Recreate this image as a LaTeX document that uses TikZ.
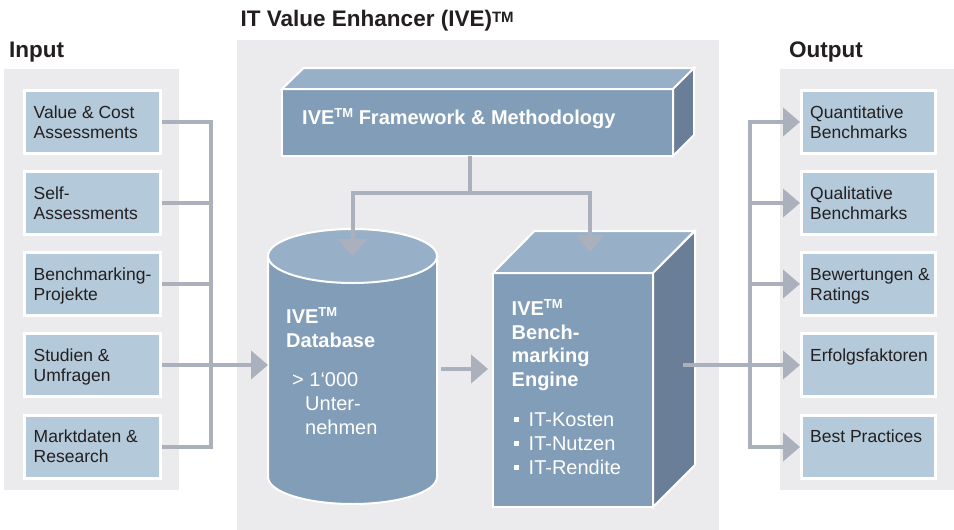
\documentclass[tikz,border=0pt]{standalone}
\usepackage{fontspec}
\setmainfont{Liberation Sans}
\usetikzlibrary{arrows.meta}
\definecolor{panel}{HTML}{EBEBED}
\definecolor{boxblue}{HTML}{B4CADB}
\definecolor{conn}{HTML}{AAB0BC}
\definecolor{front}{HTML}{819DB8}
\definecolor{topf}{HTML}{98AFC8}
\definecolor{side}{HTML}{6A7F97}
\definecolor{ink}{HTML}{231F20}
\newcommand\tmark[2]{\raisebox{#2}{\fontsize{#1}{#1}\selectfont TM}}
\newcommand\sA{\rule[-6pt]{0pt}{20pt}}
\newcommand\sB{\rule[-7pt]{0pt}{24pt}}
\newcommand\sC{\rule[-6.5pt]{0pt}{23.5pt}}
\newcommand\bsq{\makebox[15pt][l]{\rule[4pt]{5.5pt}{5.5pt}}}
\begin{document}
\begin{tikzpicture}[x=1pt,y=-1pt,
  panelbg/.style={fill=panel},
  iobox/.style={draw=white, line width=3pt, fill=boxblue, minimum width=136pt, minimum height=63pt, inner sep=0pt},
  iotext/.style={anchor=north west, inner sep=0pt, align=left, text=ink, font=\fontsize{17.5}{20}\selectfont},
  heading/.style={anchor=base west, inner sep=0pt, text=ink, font=\fontsize{22.5}{26}\selectfont\bfseries},
  face/.style={draw=white, line width=2pt, line join=miter},
  facenode/.style={face, inner sep=0pt, outer sep=0pt},
  whitebold/.style={anchor=north west, inner sep=0pt, align=left, text=white, font=\fontsize{20}{24}\selectfont\bfseries},
  whitereg/.style={anchor=north west, inner sep=0pt, align=left, text=white, font=\fontsize{20}{24}\selectfont},
  conn/.style={draw=conn, line width=4pt},
  arr/.style={conn, -{Triangle[length=17pt,width=28pt]}},
]
\useasboundingbox (0,0) rectangle (954,530);
\fill[white] (0,0) rectangle (954,530);
% panels
\fill[panelbg] (4,69) rectangle (179,490);
\fill[panelbg] (237,40) rectangle (719,530);
\fill[panelbg] (780,69) rectangle (954,490);
% headings
\node[heading] (tIn) at (9,57) {Input};
\node[heading] (tMid) at (240.5,27) {IT Value Enhancer (IVE)\tmark{15}{5pt}};
\node[heading] (tOut) at (789,57) {Output};
% input boxes
\node[iobox] (in1) at (92.5,122) {};
\node[iobox] (in2) at (92.5,203) {};
\node[iobox] (in3) at (92.5,284) {};
\node[iobox] (in4) at (92.5,365) {};
\node[iobox] (in5) at (92.5,447) {};
\node[iotext] (in1t) at (33.5,104) {\sA Value \& Cost\\\sA Assessments};
\node[iotext] (in2t) at (33.5,185) {\sA Self-\\\sA Assessments};
\node[iotext] (in3t) at (33.5,266) {\sA Benchmarking-\\\sA Projekte};
\node[iotext] (in4t) at (33.5,347) {\sA Studien \&\\\sA Umfragen};
\node[iotext] (in5t) at (33.5,428) {\sA Marktdaten \&\\\sA Research};
% output boxes
\node[iobox, minimum width=134pt] (out1) at (868.5,122) {};
\node[iobox, minimum width=134pt] (out2) at (868.5,203) {};
\node[iobox, minimum width=134pt] (out3) at (868.5,284) {};
\node[iobox, minimum width=134pt] (out4) at (868.5,365) {};
\node[iobox, minimum width=134pt] (out5) at (868.5,447) {};
\node[iotext] (out1t) at (810,104) {\sA Quantitative\\\sA Benchmarks};
\node[iotext] (out2t) at (810,185) {\sA Qualitative\\\sA Benchmarks};
\node[iotext] (out3t) at (810,266) {\sA Bewertungen \&\\\sA Ratings};
\node[iotext] (out4t) at (810,347) {\sA Erfolgsfaktoren};
\node[iotext] (out5t) at (810,428) {\sA Best Practices};
% framework block
\node[facenode, fill=front, minimum width=391pt, minimum height=67pt] (fw) at (477.5,122.5) {};
\draw[face, fill=topf] (fw.north west) -- ++(21.5,-21) -- ++(391,0) -- (fw.north east) -- cycle;
\draw[face, fill=side] (fw.north east) -- ++(21,-21) -- ++(0,67) -- (fw.south east) -- cycle;
\node[anchor=base west, inner sep=0pt, text=white, font=\fontsize{20}{24}\selectfont\bfseries] (fwt) at (302,124) {IVE\tmark{13}{7pt} Framework \& Methodology};
% database cylinder
\node[inner sep=0pt, outer sep=0pt, minimum width=169pt, minimum height=221pt] (db) at (352.5,366.5) {};
\fill[front] (db.north west) -- (db.south west) arc[start angle=180, end angle=0, x radius=84.5, y radius=27] -- (db.north east) -- cycle;
\draw[face] (db.north west) -- (db.south west) arc[start angle=180, end angle=0, x radius=84.5, y radius=27] -- (db.north east);
\draw[face, fill=topf] (db.north) ellipse [x radius=84.5, y radius=27];
\node[whitebold] (dbt) at (286,306) {\sB IVE\tmark{13}{7pt}\\\sB Database};
\node[whitereg] (dbs) at (292,369) {\sC > 1‘000\\\sC\hspace*{13pt}Unter-\\\sC\hspace*{13pt}nehmen};
% engine block
\node[facenode, fill=front, minimum width=160pt, minimum height=234pt] (eng) at (573,390) {};
\draw[face, fill=topf] (eng.north west) -- ++(41.5,-42) -- ++(160,0) -- (eng.north east) -- cycle;
\draw[face, fill=side] (eng.north east) -- ++(42,-42) -- ++(0,234) -- (eng.south east) -- cycle;
\node[whitebold, font=\fontsize{20}{23.5}\selectfont\bfseries] (engt) at (511.5,298.5) {\sC IVE\tmark{13}{7pt}\\\sC Bench-\\\sC marking\\\sC Engine};
\node[whitereg] (engs) at (513.5,409) {\sB\bsq IT-Kosten\\\sB\bsq IT-Nutzen\\\sB\bsq IT-Rendite};
% connectors: input side
\coordinate (ib) at (211,447);
\draw[conn] (in1.east) -| (ib) -- (in5.east);
\draw[conn] (in2.east) -- (in2.east -| ib);
\draw[conn] (in3.east) -- (in3.east -| ib);
\draw[arr] (in4.east) -- (db.west |- in4.east);
% connectors: framework
\coordinate (split) at (470,193);
\coordinate (engtop) at (590,252);
\draw[conn] (fw.south -| split) -- (split);
\draw[arr] (split) -| (db.north);
\draw[arr] (split) -| (engtop);
% database to engine
\draw[arr, shorten <=4pt, shorten >=5pt] (db.east |- 0,369) -- (eng.west |- 0,369);
% connectors: output side
\coordinate (ob) at (750,0);
\coordinate (engout) at (683,365);
\draw[arr] (ob |- out5.west) -- (ob |- out1.west) -- (out1.west);
\draw[arr, line cap=rect] (ob |- out5.west) -- (out5.west);
\draw[arr] (ob |- out2.west) -- (out2.west);
\draw[arr] (ob |- out3.west) -- (out3.west);
\draw[arr] (engout) -- (out4.west);
\end{tikzpicture}
\end{document}
